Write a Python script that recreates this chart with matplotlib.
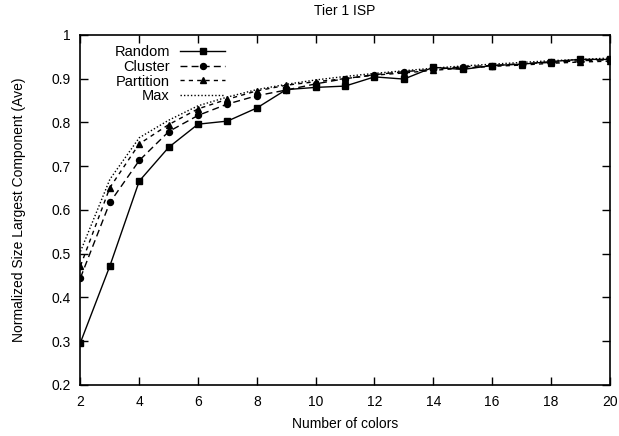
import matplotlib
matplotlib.use("Agg")
import matplotlib.pyplot as plt

plt.rcParams['font.family'] = ['Liberation Sans', 'DejaVu Sans']

# Number of colors (x axis)
colors = list(range(2, 21))

# Normalized size of largest component
random_vals = [0.297, 0.472, 0.666, 0.743, 0.796, 0.803, 0.833, 0.875, 0.880,
               0.883, 0.904, 0.899, 0.926, 0.921, 0.930, 0.933, 0.939, 0.944, 0.944]
cluster_vals = [0.445, 0.617, 0.713, 0.779, 0.816, 0.842, 0.861, 0.874, 0.888,
                0.900, 0.909, 0.916, 0.921, 0.927, 0.930, 0.934, 0.937, 0.941, 0.943]
partition_vals = [0.472, 0.651, 0.751, 0.795, 0.831, 0.853, 0.872, 0.885, 0.893,
                  0.900, 0.908, 0.913, 0.919, 0.924, 0.928, 0.931, 0.935, 0.938, 0.940]
max_vals = [0.505, 0.670, 0.765, 0.805, 0.838, 0.858, 0.875, 0.887, 0.897,
            0.905, 0.912, 0.918, 0.924, 0.929, 0.933, 0.937, 0.941, 0.944, 0.947]

x_ticks = list(range(2, 21, 2))
y_ticks = [0.2, 0.3, 0.4, 0.5, 0.6, 0.7, 0.8, 0.9, 1.0]
y_tick_labels = ['0.2', '0.3', '0.4', '0.5', '0.6', '0.7', '0.8', '0.9', '1']

fig = plt.figure(figsize=(6.19, 4.36), dpi=100)
ax = fig.add_axes([0.130, 0.117, 0.855, 0.803])

ax.plot(colors, random_vals, color='black', lw=1.0, marker='s', ms=5,
        label='Random')
ax.plot(colors, cluster_vals, color='black', lw=1.0, dashes=(5, 3), marker='o',
        ms=4.3, label='Cluster')
ax.plot(colors, partition_vals, color='black', lw=1.0, dashes=(3, 3), marker='^',
        ms=4.5, label='Partition')
ax.plot(colors, max_vals, color='black', lw=1.0, dashes=(1, 1.5), label='Max')

ax.set_xlim(2, 20)
ax.set_ylim(0.2, 1.0)
ax.set_xticks(x_ticks)
ax.set_yticks(y_ticks)
ax.set_yticklabels(y_tick_labels)
ax.tick_params(direction='in', length=6, width=1, top=True, right=True,
               labelsize=10, pad=7)
for s in ax.spines.values():
    s.set_linewidth(1.2)

ax.set_title('Tier 1 ISP', fontsize=10, pad=14)
ax.set_xlabel('Number of colors', fontsize=10, labelpad=6)
ax.set_ylabel('Normalized Size Largest Component (Ave)', fontsize=10, labelpad=18)

ax.legend(loc='upper left', bbox_to_anchor=(0.045, 1.0), frameon=False,
          markerfirst=False, fontsize=10.5, handlelength=3.1, handletextpad=0.7,
          labelspacing=0.05, borderaxespad=0.3)

fig.savefig('out.png', dpi=100)
